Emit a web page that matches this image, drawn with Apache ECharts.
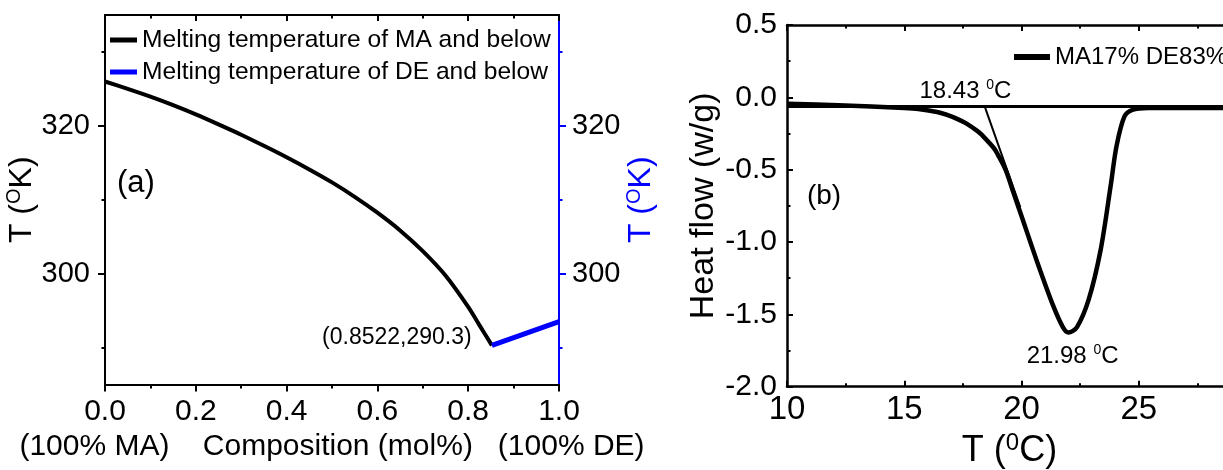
<!DOCTYPE html>
<html><head><meta charset="utf-8">
<script src="https://cdn.jsdelivr.net/npm/echarts@6/dist/echarts.min.js"></script>
<style>html,body{margin:0;padding:0;background:#fff}#c{width:1223px;height:470px}</style>
</head><body><div id="c"></div>
<script>
const FONT = 'Liberation Sans, Arial, Helvetica, sans-serif';
const BLUE = '#0000ff';

// ---------- Panel (a): phase diagram ----------
const compMA = [0, 0.05, 0.1, 0.15, 0.2, 0.25, 0.3, 0.35, 0.4, 0.45, 0.5, 0.55, 0.6, 0.65, 0.7, 0.75, 0.8, 0.825, 0.8522];
const tempMA = [326.0, 325.0, 323.95, 322.8, 321.55, 320.2, 318.8, 317.3, 315.75, 314.1, 312.35, 310.4, 308.25, 305.85, 303.05, 299.75, 295.5, 293.0, 290.3];
const compDE = [0.8522, 1.0];
const tempDE = [290.3, 293.5];
const eutectic = [0.8522, 290.3];
const yLabelsA = [300, 320];
const yMinorA = [290, 310, 330];
const legendA = ['Melting temperature of MA and below', 'Melting temperature of DE and below'];
const eutecticLabelPos = [0.8077, 291.3];
const panelLabelA = [0.068, 312.2];

// ---------- Panel (b): DSC curve ----------
const tempC = [10.0, 12.2, 15.0, 15.6, 16.45, 16.8, 17.3, 17.64, 18.14, 18.3, 18.82, 18.99, 19.32, 19.66, 20.0, 20.68, 21.35, 21.77, 22.0, 22.36, 22.87, 23.38, 23.8, 24.05, 24.39, 24.73, 25.4, 28.6];
const heatFlow = [-0.045, -0.054, -0.074, -0.081, -0.103, -0.12, -0.152, -0.18, -0.235, -0.258, -0.35, -0.396, -0.50, -0.66, -0.82, -1.143, -1.44, -1.59, -1.625, -1.59, -1.395, -1.05, -0.614, -0.339, -0.132, -0.086, -0.074, -0.074];
const baselineX = [10, 30];
const baselineY = [-0.063, -0.063];
const tangentX = [18.43, 19.95];
const tangentY = [-0.063, -0.76];
const onsetT = 18.43;
const peakT = 21.98;
const onsetLabelPos = [15.65, 0.04];
const peakLabelPos = [20.22, -1.791];
const panelLabelB = [11.58, -0.686];
const legendB = ['MA17% DE83%'];

const zip = (xs, ys) => xs.map((x, i) => [x, ys[i]]);

const supT = (color, main, sup, unit, fs, sfs, sh) => ({
  text: '{n|' + main + '}{s|' + sup + '}{n|' + unit + '}',
  rich: {
    n: { fontSize: fs, lineHeight: fs + 2, fontFamily: FONT, color: color },
    s: { fontSize: sfs, lineHeight: sh, verticalAlign: 'top', fontFamily: FONT, color: color }
  }
});

const nameA = supT('#000', 'T (', 'O', 'K)', 32, 20, 8);
const nameAR = supT(BLUE, 'T (', 'O', 'K)', 32, 20, 8);
const nameBX = supT('#000', 'T (', '0', 'C)', 36, 24, 17);

const blackLine = (w) => ({ onZero: false, lineStyle: { color: '#000', width: w } });

const chart = echarts.init(document.getElementById('c'), null, { renderer: 'canvas' });

const labelScatter = (xi, yi, data, label) => ({
  type: 'scatter', xAxisIndex: xi, yAxisIndex: yi, symbolSize: 0, silent: true,
  itemStyle: { opacity: 1 }, data: data,
  label: Object.assign({ show: true, position: [0, 0], verticalAlign: 'middle', color: '#000', opacity: 1, fontFamily: FONT }, label)
});

const option = {
  animation: false,
  backgroundColor: '#fff',
  textStyle: { fontFamily: FONT },
  grid: [
    { left: 105, top: 15, width: 454, height: 369.5, outerBoundsMode: 'none', containLabel: false },
    { left: 787, top: 25, width: 469, height: 361.7, outerBoundsMode: 'none', containLabel: false }
  ],
  legend: [
    {
      data: legendA, orient: 'vertical', left: 105, top: 19, itemGap: 0,
      icon: 'rect', itemWidth: 27, itemHeight: 5,
      textStyle: { fontSize: 24.6, lineHeight: 25, padding: [0, 0, 7, 0], color: '#000', fontFamily: FONT },
      selectedMode: false
    },
    {
      data: legendB, orient: 'vertical', left: 1009, top: 38, itemGap: 0,
      icon: 'rect', itemWidth: 36, itemHeight: 6,
      textStyle: { fontSize: 24, lineHeight: 24, padding: [0, 0, 4, 0], color: '#000', fontFamily: FONT },
      selectedMode: false
    }
  ],
  xAxis: [
    { // (a) bottom
      type: 'value', gridIndex: 0, min: 0, max: 1, interval: 0.2, position: 'bottom',
      axisLine: blackLine(2),
      axisTick: { show: true, inside: false, length: 7, lineStyle: { color: '#000', width: 2 } },
      minorTick: { show: true, splitNumber: 2, length: 4, lineStyle: { color: '#000', width: 2 } },
      splitLine: { show: false }, minorSplitLine: { show: false },
      axisLabel: { fontSize: 30, color: '#000', margin: 12, fontFamily: FONT, formatter: v => v.toFixed(1) },
      name: '(100% MA)    Composition (mol%)   (100% DE)', nameLocation: 'middle', nameGap: 44,
      nameTextStyle: { fontSize: 30, color: '#000', fontFamily: FONT }
    },
    { // (a) top
      type: 'value', gridIndex: 0, min: 0, max: 1, interval: 0.2, position: 'top',
      axisLine: blackLine(2),
      axisTick: { show: true, inside: true, length: 6, lineStyle: { color: '#000', width: 2 } },
      minorTick: { show: true, splitNumber: 2, length: 3.5, lineStyle: { color: '#000', width: 2 } },
      splitLine: { show: false }, axisLabel: { show: false }
    },
    { // (b) bottom
      type: 'value', gridIndex: 1, min: 10, max: 30, interval: 5, position: 'bottom',
      axisLine: blackLine(2.5),
      axisTick: { show: true, inside: true, length: 6, lineStyle: { color: '#000', width: 2 } },
      minorTick: { show: true, splitNumber: 2, length: 3.5, lineStyle: { color: '#000', width: 2 } },
      splitLine: { show: false }, minorSplitLine: { show: false },
      axisLabel: { fontSize: 33, color: '#000', margin: 7, fontFamily: FONT },
      name: nameBX.text, nameLocation: 'middle', nameGap: 43,
      nameTextStyle: { padding: [0, 24, 0, 0], rich: nameBX.rich }
    },
    { // (b) top
      type: 'value', gridIndex: 1, min: 10, max: 30, interval: 5, position: 'top',
      axisLine: blackLine(2.5),
      axisTick: { show: true, inside: true, length: 6, lineStyle: { color: '#000', width: 2 } },
      minorTick: { show: true, splitNumber: 2, length: 3.5, lineStyle: { color: '#000', width: 2 } },
      splitLine: { show: false }, axisLabel: { show: false }
    }
  ],
  yAxis: [
    { // 0: (a) left
      type: 'value', gridIndex: 0, min: 285, max: 335, position: 'left',
      axisLine: { show: true, onZero: false, lineStyle: { color: '#000', width: 2 } },
      axisTick: { show: true, inside: false, length: 7, customValues: yLabelsA, lineStyle: { color: '#000', width: 2 } },
      axisLabel: { fontSize: 29, color: '#000', margin: 15, fontFamily: FONT, customValues: yLabelsA },
      splitLine: { show: false },
      name: nameA.text, nameLocation: 'middle', nameRotate: 90, nameGap: 59,
      nameTextStyle: { rich: nameA.rich }
    },
    { // 1: (a) left minor ticks
      type: 'value', gridIndex: 0, min: 285, max: 335, position: 'left',
      axisLine: { show: false, onZero: false },
      axisTick: { show: true, inside: false, length: 3.5, customValues: yMinorA, lineStyle: { color: '#000', width: 2 } },
      axisLabel: { show: false }, splitLine: { show: false }
    },
    { // 2: (a) right (blue)
      type: 'value', gridIndex: 0, min: 285, max: 335, position: 'right',
      axisLine: { show: true, onZero: false, lineStyle: { color: BLUE, width: 2 } },
      axisTick: { show: true, inside: false, length: 7, customValues: yLabelsA, lineStyle: { color: BLUE, width: 2 } },
      axisLabel: { fontSize: 29, color: '#000', margin: 13, fontFamily: FONT, customValues: yLabelsA },
      splitLine: { show: false },
      name: nameAR.text, nameLocation: 'middle', nameRotate: 90, nameGap: 48,
      nameTextStyle: { rich: nameAR.rich }
    },
    { // 3: (a) right minor ticks
      type: 'value', gridIndex: 0, min: 285, max: 335, position: 'right',
      axisLine: { show: false, onZero: false },
      axisTick: { show: true, inside: false, length: 3.5, customValues: yMinorA, lineStyle: { color: BLUE, width: 2 } },
      axisLabel: { show: false }, splitLine: { show: false }
    },
    { // 4: (b) left
      type: 'value', gridIndex: 1, min: -2, max: 0.5, interval: 0.5, position: 'left',
      axisLine: { show: true, onZero: false, lineStyle: { color: '#000', width: 2.5 } },
      axisTick: { show: true, inside: true, length: 6, lineStyle: { color: '#000', width: 2 } },
      minorTick: { show: true, splitNumber: 2, length: 3.5, lineStyle: { color: '#000', width: 2 } },
      splitLine: { show: false }, minorSplitLine: { show: false },
      axisLabel: { fontSize: 30, color: '#000', margin: 10, fontFamily: FONT, formatter: v => v.toFixed(1) },
      name: 'Heat flow (w/g)', nameLocation: 'middle', nameRotate: 90, nameGap: 66,
      nameTextStyle: { fontSize: 34, color: '#000', fontFamily: FONT }
    },
    { // 5: (b) right (beyond view)
      type: 'value', gridIndex: 1, min: -2, max: 0.5, interval: 0.5, position: 'right',
      axisLine: { show: true, onZero: false, lineStyle: { color: '#000', width: 2.5 } },
      axisTick: { show: true, inside: true, length: 6 },
      axisLabel: { show: false }, splitLine: { show: false }
    }
  ],
  series: [
    {
      name: legendA[0], type: 'line', xAxisIndex: 0, yAxisIndex: 0,
      data: zip(compMA, tempMA), smooth: 0.3, showSymbol: false, symbol: 'none',
      color: '#000', lineStyle: { color: '#000', width: 4 }
    },
    {
      name: legendA[1], type: 'line', xAxisIndex: 0, yAxisIndex: 2,
      data: zip(compDE, tempDE), showSymbol: false, symbol: 'none',
      color: BLUE, lineStyle: { color: BLUE, width: 5 }
    },
    labelScatter(0, 0, [eutecticLabelPos], {
      align: 'right', formatter: '(' + eutectic[0] + ',' + eutectic[1] + ')', fontSize: 23
    }),
    labelScatter(0, 0, [panelLabelA], { align: 'center', formatter: '(a)', fontSize: 31 }),
    {
      name: legendB[0], type: 'line', xAxisIndex: 2, yAxisIndex: 4,
      data: zip(tempC, heatFlow), smooth: 0.3, showSymbol: false, symbol: 'none',
      color: '#000', lineStyle: { color: '#000', width: 4.5 }
    },
    {
      type: 'line', xAxisIndex: 2, yAxisIndex: 4, data: zip(baselineX, baselineY),
      showSymbol: false, symbol: 'none', silent: true, lineStyle: { color: '#000', width: 3 }
    },
    {
      type: 'line', xAxisIndex: 2, yAxisIndex: 4, data: zip(tangentX, tangentY),
      showSymbol: false, symbol: 'none', silent: true, lineStyle: { color: '#000', width: 2 }
    },
    labelScatter(2, 4, [
      { value: onsetLabelPos, t: onsetT },
      { value: peakLabelPos, t: peakT }
    ], {
      align: 'left',
      formatter: p => '{n|' + p.data.t.toFixed(2) + ' }{s|0}{n|C}',
      rich: {
        n: { fontSize: 24, lineHeight: 26, color: '#000', fontFamily: FONT },
        s: { fontSize: 14, lineHeight: 7, verticalAlign: 'top', color: '#000', fontFamily: FONT }
      }
    }),
    labelScatter(2, 4, [panelLabelB], { align: 'center', formatter: '(b)', fontSize: 28 })
  ]
};
chart.setOption(option);
</script></body></html>
